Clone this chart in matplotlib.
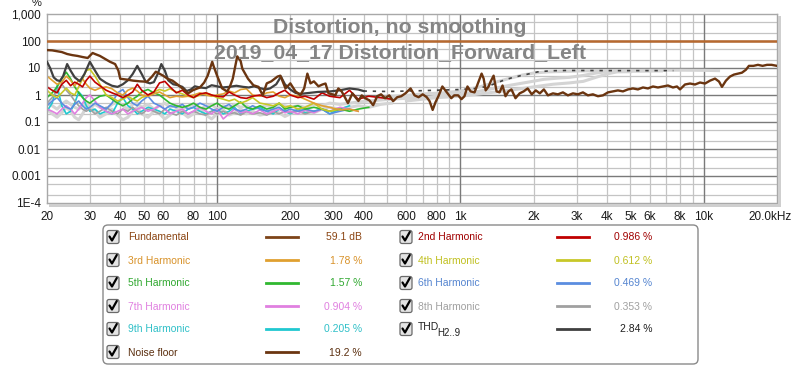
import numpy as np
import matplotlib
matplotlib.use('Agg')
import matplotlib.pyplot as plt
from matplotlib.patches import FancyBboxPatch, Rectangle
from matplotlib.ticker import NullLocator

plt.rcParams['font.family'] = ['Liberation Sans', 'DejaVu Sans']
nan = np.nan

# ---------------- data ----------------
fund_freq = [20, 20000]
fund_vals = [100, 100]

nf_freq = [20, 21, 21.9, 23, 24.2, 25.4, 26.7, 28, 29.4, 30.8,
           31.5, 33, 34.7, 36.3, 38.1, 39.3, 40, 42.8, 45.2, 48.3,
           51.5, 54, 56, 60, 62.6, 65.6, 69, 72, 76, 79.5,
           85, 88.5, 91.5, 95.5, 97, 100, 105, 110, 113, 116,
           121, 125, 127, 134, 141, 148, 154, 160, 167, 177,
           182, 191, 200, 210, 220, 228, 235, 242, 250, 261,
           271, 279, 287, 298, 306, 315, 325, 335, 345, 360,
           370, 381, 393, 406, 422, 438, 455, 472, 490, 510,
           529, 550, 571, 594, 624, 648, 673, 700, 727, 747,
           769, 790, 812, 843, 867, 891, 917, 943, 979, 1010,
           1039, 1069, 1101, 1143, 1188, 1222, 1246, 1270, 1306, 1331,
           1369, 1408, 1448, 1490, 1532, 1576, 1621, 1684, 1751, 1819,
           1890, 1964, 2041, 2120, 2203, 2289, 2400, 2516, 2638, 2766,
           2900, 3040, 3188, 3342, 3504, 3674, 3852, 4039, 4234, 4439,
           4655, 4880, 5117, 5365, 5625, 5898, 6184, 6483, 6797, 7127,
           7472, 7760, 7987, 8374, 8780, 9206, 9652, 10120, 10611, 11125,
           11554, 11880, 12337, 12812, 13306, 13818, 14350, 14902, 15330, 16000,
           16700, 17450, 18200, 19000, 20000]
nf_vals = [46, 45, 42, 39, 33, 30, 28, 25.5, 23.5, 36,
           33, 28, 21.6, 17, 14, 8, 4, 3.7, 3.4, 3.2,
           3.1, 4.8, 7.3, 5.2, 4, 3.4, 2.4, 1.75, 1.15, 1.5,
           1.9, 2.9, 5.2, 17, 11, 5.2, 1.75, 1.35, 2.1, 4,
           27, 18, 9.4, 4, 2.3, 2, 0.97, 2.7, 3.2, 4.8,
           5.2, 1.75, 2.7, 1.36, 1.0, 1.75, 6.2, 2.7, 3.2, 2.1,
           2.45, 2.66, 1.15, 1.06, 0.97, 1.75, 1.36, 0.83, 0.5, 1.15,
           0.83, 0.6, 0.97, 0.76, 0.64, 0.42, 0.9, 1.06, 0.76, 0.97,
           0.59, 0.83, 0.9, 1.15, 1.75, 0.97, 0.83, 1.06, 0.83, 0.59,
           0.28, 0.54, 0.9, 2.07, 1.48, 1.06, 0.76, 0.97, 0.97, 0.7,
           0.9, 2.07, 1.36, 1.25, 3.15, 6.2, 4.05, 1.48, 2.07, 3.15,
           5.2, 1.36, 1.25, 2.25, 0.9, 1.36, 1.61, 0.76, 1.15, 1.36,
           1.75, 1.06, 1.48, 1.15, 1.61, 0.97, 1.15, 1.06, 1.25, 0.97,
           1.15, 1.06, 1.25, 0.97, 1.06, 0.9, 0.97, 1.25, 1.36, 1.48,
           1.36, 1.61, 1.75, 1.61, 1.9, 1.75, 2.07, 1.9, 2.07, 2.25,
           1.9, 2.07, 1.61, 2.45, 2.66, 2.45, 2.9, 2.66, 3.4, 4.05,
           3.15, 2.0, 3.4, 4.8, 5.7, 6.2, 6.7, 8.6, 12, 12,
           13.1, 12, 13.1, 13.1, 12]

thd_lo_freq = [20, 20.6, 21.3, 22, 22.6, 23.3, 24.2, 25, 26, 27.3,
               28.5, 30, 31.5, 33, 35, 37, 39, 41, 43, 45,
               47, 49, 51, 53, 55, 57, 59, 61, 63, 66,
               69, 72, 75, 78, 81, 85, 90, 95, 100, 105,
               112, 120, 128, 135, 142, 150, 158, 165, 175, 183,
               190, 200, 210, 220, 240, 260, 290, 320, 350, 380,
               400]
thd_lo_vals = [17, 10, 4.5, 3.5, 3.3, 5, 14, 8, 4.5, 3.2,
               6, 17, 8, 4, 2.8, 2.2, 2, 2.5, 3.5, 6,
               12, 6, 3, 2.7, 3, 6, 14, 8, 3.5, 2.5,
               2.3, 2, 1.4, 1.6, 2.1, 1.9, 1.8, 2.3, 2.1, 1.9,
               2.0, 2.2, 2.0, 1.9, 2.1, 1.8, 1.6, 1.75, 2.5, 4.8,
               2.5, 1.6, 1.2, 1.1, 1.2, 1.3, 1.35, 1.5, 1.75, 1.6,
               1.4]
thd_hi_freq = [400, 500, 600, 700, 800, 1000, 1200, 1350, 1490, 1620,
               1770, 1950, 2080, 2350, 2700, 3100, 4200, 5000, 6000, 7500]
thd_hi_vals = [1.4, 1.35, 1.4, 1.45, 1.5, 1.6, 1.8, 2.4, 3.4, 4.3,
               5.2, 6.3, 7.2, 7.9, 8.1, 8.1, 8.0, 8.0, 8.0, 8.0]

harm_freq = [20, 21, 22, 23, 24, 25, 26, 27, 28, 29, 30,
             31.5, 33, 35, 37, 39, 41, 43, 45, 47, 49,
             52, 55, 58, 61, 64, 68, 72, 76, 80,
             85, 90, 95, 100,
             106, 112, 118, 125, 132, 140, 150, 160, 170, 180, 190, 200,
             215, 230, 250, 270, 290, 320, 350, 380, 420, 470, 520]

h2_vals = [2.0, 1.5, 1.2, 2.5, 3.5, 2.2, 3.0, 2.5, 2.0, 3.5, 5.0,
           3.0, 2.2, 1.5, 1.2, 1.0, 0.8, 1.0, 1.3, 2.5, 1.5,
           1.0, 1.3, 2.8, 3.2, 2.0, 1.2, 1.5, 1.0, 0.8,
           1.1, 1.2, 1.0, 0.9,
           0.85, 1.3, 1.0, 0.8, 0.75, 0.9, 1.0, 0.8, 0.9, 1.2, 1.5, 1.0,
           0.8, 0.9, 0.7, 1.2, 0.9, 0.8, 1.5, 0.7, 0.9, 0.8, 0.7]
h3_vals = [5.0, 3.5, 2.5, 3.0, 5.0, 3.5, 2.2, 3.5, 4.0, 2.5, 1.8,
           1.5, 1.8, 2.0, 1.7, 1.2, 1.0, 1.5, 1.8, 1.4, 1.0,
           0.9, 1.1, 1.3, 1.0, 0.8, 0.9, 0.85, 0.9, 1.0,
           1.2, 1.0, 0.9, 1.0,
           1.1, 1.4, 1.2, 1.6, 1.7, 1.0, 0.9, 1.2, 1.3, 0.9, 0.8, 1.0,
           0.9, 0.7, 0.5, 0.4, 0.35, 0.28, 0.3, 0.25, nan, nan, nan]
h4_vals = [1.5, 1.0, 0.8, 1.2, 1.8, 1.2, 1.0, 2.0, 4.0, 8.0, 9.0,
           5.0, 2.5, 1.0, 0.8, 0.6, 0.7, 0.9, 0.7, 0.6, 0.8,
           1.0, 1.3, 1.6, 1.4, 1.7, 1.3, 1.1, 0.9, 0.8,
           1.0, 1.2, 1.0, 0.8,
           0.7, 0.6, 0.7, 0.5, 0.6, 0.8, 0.5, 0.45, 0.4, 0.5, 0.35, 0.4,
           0.3, 0.35, 0.5, 0.3, 0.25, 0.3, nan, nan, nan, nan, nan]
h5_vals = [0.8, 1.2, 2.0, 4.0, 7.0, 4.0, 2.0, 1.2, 0.8, 0.6, 0.5,
           0.7, 0.9, 1.0, 0.7, 0.5, 0.4, 0.5, 0.7, 0.9, 1.3,
           1.6, 1.2, 1.0, 0.7, 0.5, 0.4, 0.35, 0.4, 0.5,
           0.35, 0.3, 0.4, 0.5,
           0.35, 0.3, 0.4, 0.55, 0.35, 0.3, 0.4, 0.3, 0.35, 0.5, 0.3, 0.35,
           0.4, 0.3, 0.35, 0.3, 0.25, 0.3, 0.25, 0.3, 0.35, nan, nan]
h6_vals = [0.4, 0.6, 0.8, 0.5, 0.35, 0.3, 0.45, 0.6, 0.4, 0.3, 0.35,
           0.5, 0.4, 0.3, 0.5, 1.2, 1.6, 0.8, 0.5, 0.4, 0.6,
           0.9, 0.5, 0.4, 0.3, 0.4, 0.35, 0.45, 0.3, 0.35,
           0.5, 0.4, 0.3, 0.25,
           0.35, 0.45, 0.3, 0.25, 0.3, 0.4, 0.3, 0.25, 0.3, 0.35, 0.25, 0.3,
           0.25, 0.3, 0.25, 0.3, 0.2, 0.25, 0.3, nan, nan, nan, nan]
h7_vals = [0.3, 0.25, 0.2, 0.3, 0.4, 0.3, 0.2, 0.3, 0.5, 0.8, 1.0,
           0.6, 0.35, 0.25, 0.2, 0.25, 0.3, 0.2, 0.25, 0.3, 0.35,
           0.25, 0.3, 0.4, 0.3, 0.2, 0.25, 0.3, 0.2, 0.25,
           0.35, 0.25, 0.2, 0.3,
           0.13, 0.2, 0.3, 0.22, 0.25, 0.2, 0.28, 0.2, 0.25, 0.3, 0.22, 0.25,
           0.2, 0.28, 0.22, 0.3, 0.25, 0.35, 0.3, 0.25, nan, nan, nan]
h8_vals = [0.5, 0.8, 1.5, 2.5, 1.5, 1.0, 0.6, 0.4, 0.3, 0.25, 0.3,
           0.2, 0.25, 0.35, 0.25, 0.2, 0.3, 0.25, 0.35, 0.25, 0.2,
           0.3, 0.25, 0.2, 0.3, 0.22, 0.18, 0.25, 0.2, 0.25,
           0.2, 0.18, 0.25, 0.2,
           0.25, 0.2, 0.22, 0.18, 0.25, 0.2, 0.22, 0.18, 0.24, 0.2, 0.25, 0.22,
           0.25, 0.2, 0.25, nan, nan, nan, nan, nan, nan, nan, nan]
h9_vals = [0.25, 0.5, 2.2, 0.4, 0.2, 0.25, 0.5, 1.3, 0.9, 0.4, 0.25,
           0.3, 0.2, 0.25, 0.2, 0.5, 0.8, 0.4, 0.3, 0.2, 0.25,
           0.35, 0.3, 0.25, 0.2, 0.3, 0.25, 0.2, 0.3, 0.35,
           0.25, 0.2, 0.25, 0.3,
           0.2, 0.25, 0.35, 0.2, 0.25, 0.3, 0.35, 0.25, 0.2, 0.3, 0.25, 0.2,
           0.3, 0.22, 0.25, 0.3, 0.2, 0.3, 0.4, nan, nan, nan, nan]

# faded (grey) harmonic traces
grey1_vals = [0.3, 0.2, 0.15, 0.22, 0.35, 0.25, 0.15, 0.12, 0.2, 0.35, 0.4,
              0.25, 0.15, 0.2, 0.3, 0.18, 0.12, 0.15, 0.25, 0.35, 0.2,
              0.15, 0.25, 0.2, 0.13, 0.18, 0.3, 0.22, 0.15, 0.2,
              0.3, 0.18, 0.13, 0.2,
              0.28, 0.18, 0.22, 0.3, 0.2, 0.25, 0.18, 0.2, 0.28, 0.22, 0.16, 0.2,
              0.3, 0.25, 0.22, 0.3, 0.35, 0.3, 0.35, 0.4, 0.35, 0.45, 0.5]
grey2_vals = [0.5, 0.4, 0.3, 0.45, 0.6, 0.45, 0.35, 0.3, 0.4, 0.5, 0.35,
              0.45, 0.35, 0.3, 0.45, 0.55, 0.4, 0.3, 0.45, 0.5, 0.35,
              0.45, 0.3, 0.4, 0.5, 0.35, 0.42, 0.3, 0.38, 0.45,
              0.3, 0.38, 0.45, 0.3,
              0.4, 0.33, 0.45, 0.35, 0.4, 0.3, 0.35, 0.4, 0.35, 0.45, 0.4, 0.35,
              0.4, 0.35, 0.45, 0.4, 0.5, 0.45, 0.5, 0.55, 0.6, 0.65, 0.7]
g1_freq = [450, 550, 700, 850, 1000, 1200, 1400, 1600, 1800, 2000,
           2300, 2700, 3200, 4000, 5000, 6500, 8000, 10000, 11500]
g1_vals = [0.8, 0.9, 1.1, 1.2, 1.4, 2.0, 3.0, 4.2, 5.5, 6.5,
           7.2, 7.5, 7.8, 8.0, 8.2, 8.3, 8.3, 8.2, 8.0]
g2_freq = [500, 700, 900, 1100, 1300, 1600, 1900, 2200, 2500, 2800,
           3200, 3600, 4000, 4500, 5500, 6700]
g2_vals = [0.7, 0.8, 1.0, 1.2, 1.6, 2.3, 3.0, 3.8, 4.2, 4.5,
           5.3, 6.5, 7.3, 7.5, 7.6, 7.8]
g3_freq = [600, 800, 1000, 1300, 1600, 2000, 2400, 2800, 3200, 3600,
           4000, 4400, 5000]
g3_vals = [0.6, 0.8, 0.9, 1.2, 1.5, 2.0, 2.5, 2.8, 3.2, 4.5,
           6.0, 7.2, 7.3]

x_tick_vals = [20, 30, 40, 50, 60, 80, 100, 200, 300, 400, 600, 800,
               1000, 2000, 3000, 4000, 5000, 6000, 8000, 10000]
x_tick_labels = ['20', '30', '40', '50', '60', '80', '100', '200', '300', '400',
                 '600', '800', '1k', '2k', '3k', '4k', '5k', '6k', '8k', '10k']
y_tick_vals = [1e-4, 1e-3, 1e-2, 0.1, 1, 10, 100, 1000]
y_tick_labels = ['1E-4', '0.001', '0.01', '0.1', '1', '10', '100', '1,000']

legend_names = ['Fundamental', '2nd Harmonic', '3rd Harmonic', '4th Harmonic',
                '5th Harmonic', '6th Harmonic', '7th Harmonic', '8th Harmonic',
                '9th Harmonic', 'THD', 'Noise floor']
thd_subscript = 'H2..9'
legend_values = ['59.1 dB', '0.986 %', '1.78 %', '0.612 %', '1.57 %', '0.469 %',
                 '0.904 %', '0.353 %', '0.205 %', '2.84 %', '19.2 %']

# ---------------- styles ----------------
C_FUND = '#b7692f'
C_FUND_LEG = '#7d4418'
C_NF = '#6b3510'
C_THD = '#404040'
C_H = {2: '#c00000', 3: '#e0a030', 4: '#c8c828', 5: '#30b830',
       6: '#5b8de0', 7: '#e080e0', 8: '#a0a0a0', 9: '#20c8d0'}
C_FADE = '#d4d4d4'
TXT_COLORS = ['#8b4513', '#a00000', '#d8922a', '#c0c020', '#30a830', '#5585d0',
              '#e080e0', '#a0a0a0', '#30c0c8', '#202020', '#5a2e0e']
LINE_COLORS = [C_FUND_LEG, C_H[2], C_H[3], C_H[4], C_H[5], C_H[6], C_H[7],
               C_H[8], C_H[9], C_THD, C_NF]

W, H = 800, 366
AX_L, AX_R, AX_T, AX_B = 47, 777, 14, 203

fig = plt.figure(figsize=(8, 3.66), dpi=100)
fig.patch.set_facecolor('white')
ax = fig.add_axes([AX_L / W, 1 - AX_B / H, (AX_R - AX_L) / W, (AX_B - AX_T) / H])
ax.set_xscale('log')
ax.set_yscale('log')
ax.set_xlim(20, 20000)
ax.set_ylim(1e-4, 1000)

# grid
for dec in [10, 100, 1000, 10000]:
    for m in range(2, 10):
        f = dec * m
        if 20 < f < 20000:
            ax.axvline(f, color='#c4c4c4', lw=0.9, zorder=0.5)
for f in [100, 1000, 10000]:
    ax.axvline(f, color='#7a7a7a', lw=1.0, zorder=0.6)
for e in range(-4, 3):
    for m in [2, 5]:
        ax.axhline(m * 10.0 ** e, color='#c4c4c4', lw=0.9, zorder=0.5)
for e in range(-3, 3):
    ax.axhline(10.0 ** e, color='#7a7a7a', lw=1.0, zorder=0.6)

# traces
for gv in (grey1_vals, grey2_vals):
    ax.plot(harm_freq, gv, color=C_FADE, lw=2.2, zorder=1)
for gf, gv in ((g1_freq, g1_vals), (g2_freq, g2_vals), (g3_freq, g3_vals)):
    ax.plot(gf, gv, color=C_FADE, lw=2.2, zorder=1)

harm_series = [(9, h9_vals), (8, h8_vals), (7, h7_vals), (6, h6_vals),
               (5, h5_vals), (4, h4_vals), (3, h3_vals), (2, h2_vals)]
for n, vals in harm_series:
    ax.plot(harm_freq, vals, color=C_H[n], lw=1.2, zorder=2)

ax.plot(thd_lo_freq, thd_lo_vals, color=C_THD, lw=1.6, zorder=3)
ax.plot(thd_hi_freq, thd_hi_vals, color=C_THD, lw=1.2, zorder=3,
        linestyle=(0, (2, 3.5)))
ax.plot(nf_freq, nf_vals, color=C_NF, lw=1.7, zorder=4)
ax.plot(fund_freq, fund_vals, color=C_FUND, lw=1.8, zorder=4)

# ticks
ax.xaxis.set_minor_locator(NullLocator())
ax.yaxis.set_minor_locator(NullLocator())
ax.set_xticks(x_tick_vals)
ax.set_xticklabels(x_tick_labels)
ax.set_yticks(y_tick_vals)
ax.set_yticklabels(y_tick_labels)
ax.tick_params(axis='both', length=0, labelsize=8.5, colors='#1a1a1a')
ax.tick_params(axis='x', pad=5.5)
ax.tick_params(axis='y', pad=4.5)
for s in ax.spines.values():
    s.set_color('#a8a8a8')
    s.set_linewidth(1.0)

# overlay axes in pixel coordinates
lax = fig.add_axes([0, 0, 1, 1])
lax.set_xlim(0, W)
lax.set_ylim(H, 0)
lax.axis('off')
lax.patch.set_alpha(0)

# frame shadow
lax.add_patch(Rectangle((AX_R + 0.5, AX_T + 2), 3, AX_B - AX_T + 1, color='#cfcfcf', lw=0))
lax.add_patch(Rectangle((AX_L + 2, AX_B + 0.5), AX_R - AX_L + 1.5, 3, color='#cfcfcf', lw=0))

lax.text(37, 6.5, '%', fontsize=8, ha='center', va='baseline', color='#1a1a1a')
lax.text(770, 219.5, '20.0kHz', fontsize=8.5, ha='center', va='baseline', color='#1a1a1a')

lax.text(400, 33, 'Distortion, no smoothing', fontsize=15.3, fontweight='bold',
         color='#858585', ha='center', va='baseline', zorder=10)
lax.text(400, 58, '2019_04_17 Distortion_Forward_Left', fontsize=15.3, fontweight='bold',
         color='#858585', ha='center', va='baseline', zorder=10)

# legend box
lax.add_patch(FancyBboxPatch((103, 225), 595, 139,
                             boxstyle='round,pad=0,rounding_size=5',
                             fc='white', ec='#8a8a8a', lw=1.0))

row_y = [237, 260, 283, 306, 329, 352]
col_cfg = [dict(cb=113, tx=128, l0=266, l1=298, vx=362),
           dict(cb=406, tx=418, l0=557, l1=589, vx=652)]
order_positions = [(0, 0), (1, 0), (0, 1), (1, 1), (0, 2), (1, 2), (0, 3), (1, 3),
                   (0, 4), (1, 4), (0, 5)]


def checkbox(cx, cy):
    lax.add_patch(FancyBboxPatch((cx - 6, cy - 6.5), 12, 13,
                                 boxstyle='round,pad=0,rounding_size=2',
                                 fc='#e4e4e4', ec='#6a6a6a', lw=0.9))
    lax.plot([cx - 3.5, cx - 1, cx + 3.8], [cy - 0.5, cy + 3.5, cy - 5],
             color='black', lw=1.6, solid_capstyle='round')


for i, (name, val) in enumerate(zip(legend_names, legend_values)):
    c, r = order_positions[i]
    cfg = col_cfg[c]
    y = row_y[r]
    checkbox(cfg['cb'], y)
    if name == 'THD':
        lax.text(cfg['tx'], y + 1.5, name, fontsize=7.5, color=TXT_COLORS[i],
                 ha='left', va='baseline')
        lax.text(cfg['tx'] + 19.5, y + 6.5, thd_subscript, fontsize=7.0,
                 color=TXT_COLORS[i], ha='left', va='baseline')
    else:
        lax.text(cfg['tx'], y + 3.5, name, fontsize=7.5, color=TXT_COLORS[i],
                 ha='left', va='baseline')
    lax.plot([cfg['l0'], cfg['l1']], [y, y], color=LINE_COLORS[i], lw=2.0)
    lax.text(cfg['vx'], y + 3.5, val, fontsize=7.5, color=TXT_COLORS[i],
             ha='right', va='baseline')

fig.savefig('out.png', dpi=100, facecolor='white')
